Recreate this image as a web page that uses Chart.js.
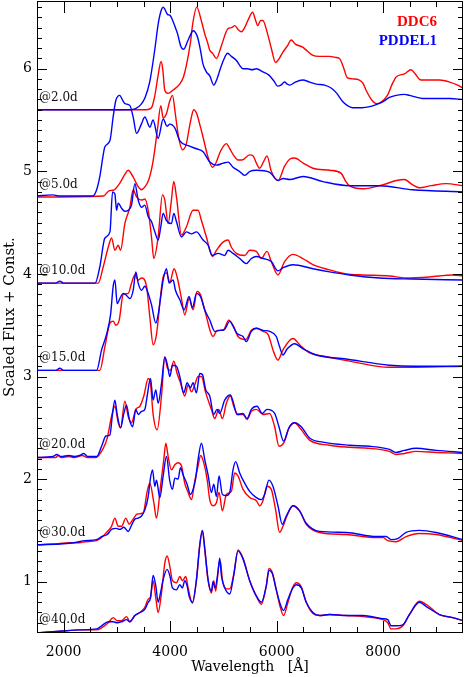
<!DOCTYPE html>
<html>
<head>
<meta charset="utf-8">
<script src="https://cdn.jsdelivr.net/npm/chart.js@4/dist/chart.umd.min.js"></script>
<style>
  html, body { margin: 0; padding: 0; background: #fff; }
  canvas { display: block; }
</style>
</head>
<body>
<canvas id="chart" width="464" height="677"></canvas>
<script>
// [wavelength (A), scaled flux + const]
const ddc6_2d = [[1500,5.60],[3550,5.60],[3650,5.62],[3710,5.73],[3770,5.92],[3830,6.07],[3860,6.00],[3900,5.79],[3960,5.76],[4050,5.79],[4180,5.85],[4250,5.92],[4300,6.02],[4380,6.25],[4425,6.44],[4500,6.60],[4590,6.46],[4650,6.34],[4700,6.26],[4745,6.18],[4800,6.15],[4870,6.10],[4960,6.22],[5085,6.39],[5150,6.40],[5215,6.42],[5280,6.38],[5340,6.36],[5400,6.40],[5460,6.47],[5550,6.55],[5600,6.48],[5645,6.42],[5700,6.47],[5740,6.47],[5830,6.34],[5900,6.20],[5980,6.06],[6050,6.10],[6115,6.16],[6200,6.22],[6275,6.28],[6350,6.24],[6490,6.21],[6580,6.17],[6680,6.13],[6800,6.12],[7000,6.12],[7100,6.11],[7180,6.10],[7250,6.02],[7330,5.91],[7450,5.90],[7550,5.89],[7620,5.86],[7680,5.79],[7780,5.70],[7870,5.66],[7950,5.67],[8080,5.74],[8170,5.85],[8245,5.92],[8400,5.95],[8525,5.99],[8600,5.95],[8710,5.89],[8850,5.89],[9060,5.89],[9250,5.87],[9400,5.84],[9500,5.81]];
const pddel1_2d = [[1500,5.60],[3250,5.60],[3350,5.61],[3450,5.65],[3530,5.72],[3620,5.88],[3710,6.18],[3780,6.45],[3840,6.58],[3870,6.60],[3900,6.58],[3950,6.53],[4000,6.52],[4040,6.48],[4100,6.40],[4140,6.34],[4200,6.22],[4255,6.19],[4330,6.27],[4400,6.35],[4430,6.37],[4480,6.35],[4520,6.30],[4570,6.18],[4615,6.05],[4680,5.97],[4745,5.93],[4820,5.84],[4880,5.90],[4930,5.98],[5000,6.08],[5080,6.15],[5150,6.12],[5245,6.08],[5310,6.03],[5365,6.00],[5450,6.00],[5540,5.99],[5620,6.00],[5740,5.97],[5850,5.94],[5950,5.88],[6020,5.83],[6080,5.84],[6150,5.87],[6200,5.85],[6245,5.84],[6350,5.87],[6490,5.89],[6620,5.87],[6745,5.85],[6900,5.84],[7030,5.81],[7130,5.76],[7240,5.68],[7330,5.64],[7425,5.62],[7600,5.62],[7750,5.63],[7870,5.65],[8000,5.68],[8120,5.72],[8245,5.74],[8400,5.75],[8495,5.74],[8740,5.71],[9000,5.71],[9250,5.71],[9500,5.70]];

const ddc6_5d = [[1500,4.75],[2750,4.76],[2850,4.81],[2950,4.82],[3050,4.88],[3150,4.97],[3212,5.01],[3300,4.95],[3400,4.85],[3460,4.82],[3530,4.85],[3600,4.92],[3680,5.10],[3760,5.40],[3825,5.64],[3870,5.52],[3930,5.56],[3990,5.68],[4044,5.74],[4100,5.55],[4160,5.33],[4231,5.21],[4300,5.26],[4380,5.48],[4444,5.60],[4500,5.56],[4560,5.45],[4620,5.33],[4700,5.16],[4794,5.04],[4850,5.07],[4950,5.20],[5056,5.27],[5120,5.22],[5200,5.15],[5275,5.11],[5350,5.11],[5494,5.16],[5560,5.15],[5620,5.08],[5681,5.03],[5760,5.10],[5819,5.15],[5900,5.00],[6025,4.91],[6150,5.05],[6250,5.12],[6338,5.13],[6500,5.08],[6681,5.03],[7000,5.01],[7213,4.98],[7300,4.90],[7369,4.86],[7619,4.83],[8000,4.87],[8250,4.91],[8400,4.92],[8550,4.87],[8681,4.84],[8900,4.86],[9181,4.88],[9500,4.86]];
const pddel1_5d = [[1500,4.76],[1800,4.77],[1900,4.76],[2550,4.76],[2620,4.82],[2680,4.95],[2740,5.15],[2775,5.24],[2870,5.30],[2930,5.53],[2980,5.69],[3055,5.74],[3100,5.70],[3150,5.66],[3245,5.64],[3305,5.53],[3370,5.37],[3460,5.46],[3525,5.53],[3620,5.43],[3680,5.50],[3775,5.32],[3870,5.51],[3940,5.44],[3995,5.46],[4090,5.42],[4180,5.30],[4340,5.25],[4495,5.22],[4620,5.19],[4745,5.09],[4870,5.06],[5000,5.08],[5090,5.09],[5180,5.04],[5300,5.00],[5400,4.96],[5500,5.00],[5620,5.01],[5870,4.99],[6030,4.91],[6120,4.93],[6245,4.92],[6495,4.95],[6870,4.90],[7370,4.86],[7930,4.86],[8555,4.82],[9500,4.80]];

const ddc6_10d = [[1500,3.91],[2650,3.91],[2744,4.07],[2838,4.26],[2900,4.35],[2963,4.23],[3025,4.28],[3069,4.23],[3150,4.49],[3244,4.65],[3306,4.82],[3369,4.75],[3463,4.72],[3525,4.73],[3588,4.62],[3650,4.36],[3694,4.15],[3775,4.36],[3856,4.77],[3900,4.72],[3963,4.49],[4020,4.70],[4069,4.90],[4119,4.75],[4213,4.38],[4306,4.46],[4431,4.62],[4525,4.62],[4588,4.52],[4681,4.36],[4794,4.17],[4869,4.23],[4994,4.31],[5088,4.33],[5150,4.26],[5244,4.20],[5400,4.18],[5494,4.23],[5619,4.22],[5713,4.15],[5819,4.22],[5900,4.12],[6025,3.99],[6150,4.12],[6306,4.19],[6494,4.15],[6681,4.09],[6994,4.04],[7306,4.00],[7619,3.99],[8119,3.98],[8431,3.96],[8869,3.97],[9306,3.99],[9500,3.98]];
const pddel1_10d = [[1500,3.91],[1850,3.91],[1930,3.93],[2000,3.91],[2590,3.91],[2680,4.07],[2775,4.35],[2870,4.41],[2919,4.80],[2963,4.78],[2994,4.62],[3025,4.69],[3088,4.64],[3150,4.61],[3213,4.62],[3275,4.67],[3338,4.88],[3400,4.72],[3463,4.65],[3525,4.67],[3588,4.56],[3650,4.51],[3713,4.41],[3775,4.33],[3825,4.46],[3869,4.59],[3931,4.52],[4025,4.49],[4069,4.59],[4119,4.51],[4213,4.36],[4306,4.41],[4400,4.39],[4494,4.41],[4619,4.33],[4713,4.28],[4794,4.18],[4900,4.20],[5025,4.18],[5088,4.23],[5181,4.20],[5306,4.15],[5431,4.10],[5525,4.15],[5619,4.17],[5750,4.15],[5900,4.12],[6025,4.03],[6119,4.06],[6306,4.09],[6681,4.05],[6994,4.02],[7369,3.99],[7931,3.96],[8556,3.95],[9500,3.94]];

const ddc6_15d = [[1500,3.06],[2680,3.06],[2775,3.29],[2869,3.52],[2931,3.54],[2981,3.50],[3044,3.55],[3119,3.80],[3213,3.81],[3275,3.91],[3338,3.99],[3400,3.94],[3463,3.96],[3556,3.88],[3619,3.58],[3681,3.31],[3744,3.41],[3819,3.78],[3869,3.97],[3931,4.01],[3994,3.92],[4075,4.05],[4131,3.97],[4213,3.76],[4275,3.60],[4356,3.76],[4431,3.65],[4506,3.83],[4569,3.80],[4663,3.62],[4806,3.39],[4881,3.45],[4994,3.45],[5100,3.55],[5181,3.50],[5275,3.39],[5419,3.36],[5525,3.45],[5619,3.47],[5744,3.44],[5838,3.41],[5944,3.24],[6025,3.16],[6119,3.26],[6306,3.37],[6450,3.30],[6619,3.23],[6869,3.20],[7369,3.15],[8119,3.09],[8600,3.09],[9500,3.10]];
const pddel1_15d = [[1500,3.06],[1850,3.06],[1930,3.08],[2000,3.06],[2620,3.06],[2713,3.26],[2806,3.41],[2881,3.60],[2931,3.88],[2963,3.94],[3006,3.71],[3056,3.76],[3119,3.81],[3181,3.79],[3244,3.76],[3306,3.84],[3356,4.02],[3400,3.91],[3463,3.84],[3525,3.88],[3588,3.81],[3650,3.70],[3731,3.52],[3775,3.60],[3819,3.76],[3869,3.94],[3931,4.05],[3981,3.91],[4056,3.94],[4100,3.84],[4181,3.75],[4263,3.65],[4356,3.78],[4419,3.67],[4494,3.81],[4569,3.78],[4650,3.65],[4744,3.55],[4838,3.44],[4931,3.45],[5025,3.46],[5119,3.54],[5181,3.49],[5256,3.42],[5369,3.39],[5431,3.34],[5525,3.44],[5619,3.47],[5744,3.45],[5869,3.44],[5994,3.39],[6050,3.30],[6119,3.21],[6200,3.27],[6338,3.32],[6500,3.27],[6744,3.21],[7306,3.17],[8119,3.11],[8600,3.10],[9500,3.10]];

const ddc6_20d = [[1500,2.21],[1850,2.21],[1900,2.23],[1950,2.21],[2100,2.22],[2200,2.21],[2350,2.23],[2450,2.21],[2600,2.21],[2744,2.30],[2819,2.40],[2900,2.61],[2963,2.71],[3025,2.55],[3069,2.50],[3150,2.76],[3213,2.61],[3275,2.55],[3356,2.68],[3431,2.71],[3506,2.81],[3588,2.98],[3631,2.93],[3681,2.63],[3756,2.48],[3838,2.81],[3900,3.19],[3950,3.08],[4006,3.06],[4069,3.15],[4131,3.03],[4194,2.94],[4275,2.81],[4338,2.92],[4400,2.85],[4463,2.92],[4525,3.00],[4588,3.00],[4669,2.84],[4775,2.68],[4838,2.59],[4913,2.68],[4981,2.59],[5056,2.74],[5131,2.81],[5194,2.71],[5275,2.63],[5369,2.63],[5444,2.58],[5525,2.66],[5619,2.68],[5744,2.63],[5869,2.64],[5963,2.51],[6044,2.32],[6131,2.35],[6244,2.51],[6338,2.55],[6450,2.49],[6619,2.38],[6994,2.33],[7369,2.31],[7750,2.30],[8119,2.27],[8244,2.24],[8400,2.25],[8619,2.27],[9000,2.26],[9500,2.25]];
const pddel1_20d = [[1500,2.21],[1800,2.22],[1870,2.24],[1950,2.22],[2100,2.23],[2200,2.22],[2300,2.23],[2380,2.25],[2450,2.22],[2620,2.22],[2713,2.32],[2794,2.42],[2869,2.43],[2919,2.64],[2963,2.77],[3006,2.63],[3069,2.50],[3131,2.64],[3181,2.72],[3231,2.59],[3294,2.51],[3356,2.68],[3400,2.63],[3463,2.66],[3525,2.68],[3569,2.81],[3631,2.98],[3681,2.77],[3731,2.87],[3775,2.74],[3838,2.93],[3900,3.19],[3950,3.11],[3994,3.00],[4044,3.11],[4119,3.10],[4181,3.00],[4256,2.84],[4319,2.94],[4381,2.89],[4431,2.94],[4494,2.84],[4556,3.03],[4606,3.02],[4669,2.87],[4744,2.81],[4819,2.63],[4881,2.68],[4931,2.64],[5025,2.77],[5131,2.82],[5181,2.76],[5256,2.63],[5369,2.64],[5444,2.59],[5525,2.68],[5631,2.71],[5731,2.64],[5819,2.68],[5963,2.64],[6044,2.51],[6131,2.37],[6231,2.50],[6338,2.55],[6463,2.51],[6619,2.40],[6869,2.36],[7369,2.33],[7744,2.32],[8119,2.29],[8244,2.26],[8400,2.28],[8619,2.30],[8994,2.28],[9500,2.26]];

const ddc6_30d = [[1500,1.36],[1900,1.37],[2100,1.38],[2300,1.38],[2400,1.39],[2619,1.40],[2713,1.43],[2806,1.48],[2900,1.54],[2963,1.62],[3025,1.54],[3088,1.54],[3169,1.62],[3231,1.56],[3306,1.61],[3381,1.66],[3494,1.67],[3569,1.88],[3619,1.96],[3694,1.77],[3744,1.62],[3819,1.93],[3881,2.19],[3919,2.35],[3963,2.22],[4025,2.09],[4088,2.14],[4150,2.16],[4213,2.13],[4275,1.96],[4338,1.87],[4400,1.80],[4463,1.98],[4525,2.13],[4575,2.23],[4631,2.16],[4694,2.00],[4744,1.80],[4806,1.74],[4869,1.77],[4919,1.87],[4981,1.69],[5056,1.85],[5150,1.88],[5213,2.06],[5275,2.03],[5369,1.90],[5494,1.82],[5619,1.79],[5681,1.74],[5744,1.79],[5819,1.93],[5900,1.90],[5981,1.70],[6056,1.48],[6119,1.54],[6194,1.64],[6306,1.74],[6431,1.69],[6556,1.56],[6806,1.48],[7306,1.46],[7869,1.43],[8000,1.43],[8088,1.40],[8244,1.39],[8431,1.44],[8681,1.47],[8994,1.46],[9500,1.40]];
const pddel1_30d = [[1500,1.36],[1994,1.37],[2200,1.38],[2400,1.40],[2619,1.41],[2713,1.44],[2819,1.46],[2900,1.51],[2981,1.52],[3056,1.51],[3131,1.53],[3213,1.49],[3275,1.55],[3338,1.61],[3400,1.62],[3463,1.64],[3525,1.70],[3588,1.83],[3631,2.01],[3669,2.09],[3713,1.93],[3744,1.99],[3806,1.82],[3869,2.03],[3931,2.22],[3994,1.98],[4044,1.90],[4088,2.01],[4150,2.00],[4194,2.11],[4244,2.04],[4319,1.95],[4381,1.85],[4431,1.90],[4481,2.01],[4525,2.19],[4588,2.35],[4650,2.19],[4713,2.04],[4775,1.87],[4819,1.95],[4869,1.83],[4919,2.03],[4981,1.85],[5056,1.84],[5119,1.87],[5181,2.09],[5231,2.17],[5306,2.06],[5400,1.96],[5494,1.88],[5619,1.82],[5713,1.80],[5775,1.85],[5856,1.99],[5931,1.93],[6025,1.74],[6106,1.56],[6181,1.64],[6306,1.74],[6431,1.69],[6556,1.57],[6806,1.49],[7306,1.48],[7869,1.44],[8056,1.44],[8150,1.41],[8275,1.42],[8431,1.48],[8681,1.50],[8994,1.48],[9500,1.41]];

const ddc6_40d = [[1500,0.50],[1994,0.52],[2306,0.53],[2619,0.53],[2713,0.55],[2838,0.60],[2931,0.65],[3006,0.62],[3088,0.62],[3181,0.66],[3244,0.61],[3338,0.67],[3431,0.70],[3525,0.75],[3588,0.83],[3631,0.85],[3681,1.01],[3731,0.84],[3775,0.70],[3838,0.89],[3900,1.18],[3944,1.25],[3994,1.15],[4044,1.01],[4119,0.99],[4181,1.05],[4231,1.01],[4294,1.05],[4338,0.94],[4419,0.79],[4494,1.01],[4556,1.36],[4606,1.50],[4650,1.31],[4713,1.01],[4775,0.89],[4819,1.01],[4856,0.91],[4919,1.18],[4944,1.20],[4981,1.02],[5056,0.93],[5119,0.93],[5194,1.07],[5275,1.31],[5369,1.23],[5494,1.01],[5619,0.86],[5713,0.78],[5806,0.96],[5856,1.13],[5919,1.09],[5994,0.92],[6069,0.75],[6131,0.67],[6213,0.80],[6306,0.95],[6369,0.99],[6463,0.95],[6556,0.80],[6681,0.69],[6806,0.67],[6994,0.68],[7306,0.67],[7619,0.66],[7994,0.63],[8088,0.60],[8150,0.54],[8244,0.54],[8369,0.57],[8494,0.68],[8681,0.81],[8806,0.78],[9056,0.68],[9306,0.65],[9500,0.62]];
const pddel1_40d = [[1500,0.50],[1994,0.52],[2306,0.53],[2619,0.54],[2713,0.57],[2838,0.61],[2931,0.61],[3006,0.60],[3088,0.61],[3181,0.63],[3244,0.61],[3338,0.67],[3431,0.70],[3525,0.73],[3588,0.80],[3631,0.84],[3681,1.06],[3731,0.96],[3775,0.80],[3819,0.89],[3869,1.02],[3944,1.12],[3994,1.06],[4044,0.94],[4119,0.92],[4181,0.97],[4231,0.94],[4275,1.01],[4319,0.96],[4356,0.86],[4419,0.80],[4494,1.02],[4556,1.35],[4606,1.50],[4650,1.33],[4713,1.02],[4775,0.91],[4806,1.00],[4844,0.94],[4900,1.10],[4931,1.23],[4963,1.06],[5025,0.94],[5119,0.88],[5194,1.06],[5275,1.30],[5369,1.22],[5494,1.01],[5619,0.86],[5713,0.80],[5806,0.96],[5856,1.11],[5919,1.08],[5994,0.92],[6069,0.78],[6131,0.72],[6213,0.83],[6306,0.94],[6369,0.97],[6463,0.94],[6556,0.80],[6681,0.70],[6806,0.67],[6994,0.68],[7306,0.67],[7619,0.67],[7994,0.64],[8088,0.63],[8150,0.57],[8244,0.57],[8369,0.58],[8494,0.68],[8681,0.80],[8806,0.76],[9056,0.68],[9306,0.65],[9500,0.62]];

const epochs = ["@2.0d", "@5.0d", "@10.0d", "@15.0d", "@20.0d", "@30.0d", "@40.0d"];
const offsets = [5.60, 4.75, 3.91, 3.06, 2.21, 1.36, 0.51];
const ddc6 = [ddc6_2d, ddc6_5d, ddc6_10d, ddc6_15d, ddc6_20d, ddc6_30d, ddc6_40d];
const pddel1 = [pddel1_2d, pddel1_5d, pddel1_10d, pddel1_15d, pddel1_20d, pddel1_30d, pddel1_40d];

const xTicks = [2000, 4000, 6000, 8000];
const yTicks = [1, 2, 3, 4, 5, 6];

const RED = "rgb(255,0,0)";
const BLUE = "rgb(0,0,255)";

function toPoints(arr) {
  return arr.map(([x, y]) => ({ x, y }));
}

const datasets = [];
pddel1.forEach((s, i) => {
  datasets.push({ label: "PDDEL1 " + epochs[i], data: toPoints(s), borderColor: BLUE, order: 0 });
});
ddc6.forEach((s, i) => {
  datasets.push({ label: "DDC6 " + epochs[i], data: toPoints(s), borderColor: RED, order: 1 });
});

// frame, inward ticks on all four sides, epoch tags and legend
const decor = {
  id: "decor",
  afterDatasetsDraw(chart) {
    const { ctx, chartArea: a, scales } = chart;
    const x = scales.x, y = scales.y;
    ctx.save();
    ctx.strokeStyle = "#000";
    ctx.lineWidth = 1;
    ctx.strokeRect(a.left + 0.5, a.top + 0.5, a.right - a.left - 1, a.bottom - a.top - 1);

    ctx.beginPath();
    for (let v = 2000; v < 9500; v += 500) {
      const px = Math.round(x.getPixelForValue(v)) + 0.5;
      const len = v % 2000 === 0 ? 12 : 6;
      ctx.moveTo(px, a.bottom); ctx.lineTo(px, a.bottom - len);
      ctx.moveTo(px, a.top); ctx.lineTo(px, a.top + len);
    }
    for (let i = 6; i <= 66; i++) {
      const py = Math.round(y.getPixelForValue(i / 10)) + 0.5;
      const len = i % 10 === 0 ? 10 : 5;
      ctx.moveTo(a.left, py); ctx.lineTo(a.left + len, py);
      ctx.moveTo(a.right, py); ctx.lineTo(a.right - len, py);
    }
    ctx.stroke();

    ctx.fillStyle = "#111";
    ctx.font = "12px 'DejaVu Serif'";
    ctx.textAlign = "left";
    ctx.textBaseline = "middle";
    epochs.forEach((t, i) => {
      ctx.fillText(t, a.left + 2, y.getPixelForValue(offsets[i] + 0.12));
    });

    ctx.font = "bold 15px 'Liberation Serif'";
    ctx.textAlign = "right";
    ctx.fillStyle = RED;
    ctx.fillText("DDC6", 437, 22);
    ctx.fillStyle = BLUE;
    ctx.fillText("PDDEL1", 437, 41);
    ctx.restore();
  }
};

new Chart(document.getElementById("chart"), {
  type: "line",
  data: { datasets },
  options: {
    responsive: false,
    animation: false,
    devicePixelRatio: 1,
    layout: { padding: { top: 1, right: 1, left: 0, bottom: 0 } },
    elements: {
      line: { borderWidth: 1.4, cubicInterpolationMode: "monotone", fill: false },
      point: { radius: 0 }
    },
    plugins: { legend: { display: false }, tooltip: { enabled: false } },
    scales: {
      x: {
        type: "linear",
        min: 1500,
        max: 9500,
        grid: { display: false, drawTicks: false },
        border: { display: false },
        ticks: { color: "#000", padding: 11, maxRotation: 0, callback: v => String(v), font: { family: "DejaVu Serif", size: 14 } },
        title: { display: true, text: "Wavelength   [Å]", color: "#000", padding: { top: 0, bottom: 1 }, font: { family: "DejaVu Serif", size: 14 } },
        afterBuildTicks(s) { s.ticks = xTicks.map(v => ({ value: v })); },
        afterFit(s) { s.height = 44; s.paddingLeft = 0; s.paddingRight = 0; }
      },
      y: {
        type: "linear",
        min: 0.5,
        max: 6.66,
        grid: { display: false, drawTicks: false },
        border: { display: false },
        ticks: { color: "#000", padding: 5, callback: v => String(v), font: { family: "DejaVu Serif", size: 14 } },
        title: { display: true, text: "Scaled Flux + Const.", color: "#000", padding: { top: 1, bottom: 0 }, font: { family: "DejaVu Serif", size: 15 } },
        afterBuildTicks(s) { s.ticks = yTicks.map(v => ({ value: v })); },
        afterFit(s) { s.width = 37; s.paddingTop = 0; s.paddingBottom = 0; }
      }
    }
  },
  plugins: [decor]
});
</script>
</body>
</html>
